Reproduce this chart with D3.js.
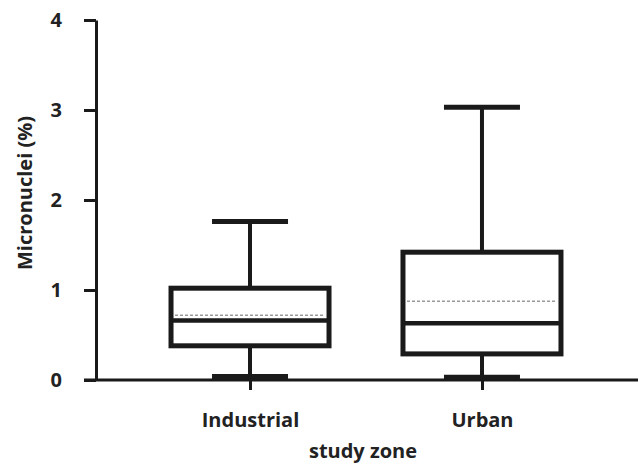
<!DOCTYPE html>
<html>
<head>
<meta charset="utf-8">
<script src="https://cdn.jsdelivr.net/npm/d3@7"></script>
<style>
  html, body { margin: 0; padding: 0; background: #fff; }
  svg { display: block; }
  text { font-family: "Open Sans", sans-serif; font-weight: bold; fill: #222; }
</style>
</head>
<body>
<svg id="chart" width="638" height="463"></svg>
<script>
// Micronuclei frequency by study zone (box-and-whisker summary)
const zones     = ["Industrial", "Urban"];
const whiskerLo = [0.04, 0.03];
const q1        = [0.38, 0.29];
const medians   = [0.66, 0.63];
const q3        = [1.02, 1.42];
const whiskerHi = [1.76, 3.03];
const means     = [0.72, 0.875];
const yTicks    = [0, 1, 2, 3, 4];

(function () {
  const svg = d3.select("#chart");
  const W = 638;
  const mLeft = 96, mBottom = 380, mTop = 20, mRight = 636;
  const fs = 20;

  const y = d3.scaleLinear().domain([0, 4]).range([mBottom, mTop]);
  const x = d3.scalePoint().domain(zones).range([mLeft, mRight]).padding(0.664);

  const boxW = 158, capW = 76;
  const ink = "#1a1a1a";

  // Y axis
  const yAxis = svg.append("g")
    .attr("transform", `translate(${mLeft},0)`)
    .call(d3.axisLeft(y).tickValues(yTicks).tickFormat(d3.format("d"))
      .tickSize(12).tickSizeOuter(0).tickPadding(22));
  yAxis.select(".domain").attr("stroke", ink).attr("stroke-width", 3);
  yAxis.selectAll(".tick line").attr("stroke", ink).attr("stroke-width", 3);
  yAxis.selectAll(".tick text").attr("font-size", fs).attr("fill", "#222")
    .attr("font-family", "'Open Sans', sans-serif").attr("font-weight", "bold");

  // X axis
  const xAxis = svg.append("g")
    .attr("transform", `translate(0,${mBottom})`)
    .call(d3.axisBottom(x).tickSize(10).tickSizeOuter(0).tickPadding(23));
  xAxis.select(".domain").attr("d", `M${mLeft - 12},0H${W}`).attr("stroke", ink).attr("stroke-width", 3);
  xAxis.selectAll(".tick line").attr("stroke", ink).attr("stroke-width", 3);
  xAxis.selectAll(".tick text").attr("font-size", fs).attr("fill", "#222")
    .attr("font-family", "'Open Sans', sans-serif").attr("font-weight", "bold");

  const data = zones.map((z, i) => ({
    z, lo: whiskerLo[i], q1: q1[i], med: medians[i], q3: q3[i], hi: whiskerHi[i], mean: means[i]
  }));

  const box = svg.append("g").selectAll("g.box").data(data).join("g").attr("class", "box");

  // whiskers
  box.append("line")
    .attr("x1", d => x(d.z)).attr("x2", d => x(d.z))
    .attr("y1", d => y(d.hi)).attr("y2", d => y(d.q3))
    .attr("stroke", ink).attr("stroke-width", 4);
  box.append("line")
    .attr("x1", d => x(d.z)).attr("x2", d => x(d.z))
    .attr("y1", d => y(d.q1)).attr("y2", d => y(d.lo))
    .attr("stroke", ink).attr("stroke-width", 4);
  // caps
  box.append("line")
    .attr("x1", d => x(d.z) - capW / 2).attr("x2", d => x(d.z) + capW / 2)
    .attr("y1", d => y(d.hi)).attr("y2", d => y(d.hi))
    .attr("stroke", ink).attr("stroke-width", 5);
  box.append("line")
    .attr("x1", d => x(d.z) - capW / 2).attr("x2", d => x(d.z) + capW / 2)
    .attr("y1", d => y(d.lo)).attr("y2", d => y(d.lo))
    .attr("stroke", ink).attr("stroke-width", 5);
  // box body
  box.append("rect")
    .attr("x", d => x(d.z) - boxW / 2).attr("width", boxW)
    .attr("y", d => y(d.q3)).attr("height", d => y(d.q1) - y(d.q3))
    .attr("fill", "#fff").attr("stroke", ink).attr("stroke-width", 5);
  // mean (dashed)
  box.append("line")
    .attr("x1", d => x(d.z) - boxW / 2 + 4).attr("x2", d => x(d.z) + boxW / 2 - 4)
    .attr("y1", d => y(d.mean)).attr("y2", d => y(d.mean))
    .attr("stroke", "#999").attr("stroke-width", 1.6).attr("stroke-dasharray", "3,2");
  // median
  box.append("line")
    .attr("x1", d => x(d.z) - boxW / 2).attr("x2", d => x(d.z) + boxW / 2)
    .attr("y1", d => y(d.med)).attr("y2", d => y(d.med))
    .attr("stroke", ink).attr("stroke-width", 4.5);

  // Axis titles
  svg.append("text")
    .attr("transform", "translate(32,193) rotate(-90)")
    .attr("text-anchor", "middle").attr("font-size", fs)
    .text("Micronuclei (%)");
  svg.append("text")
    .attr("x", 363).attr("y", 458)
    .attr("text-anchor", "middle").attr("font-size", fs)
    .text("study zone");
})();
</script>
</body>
</html>
